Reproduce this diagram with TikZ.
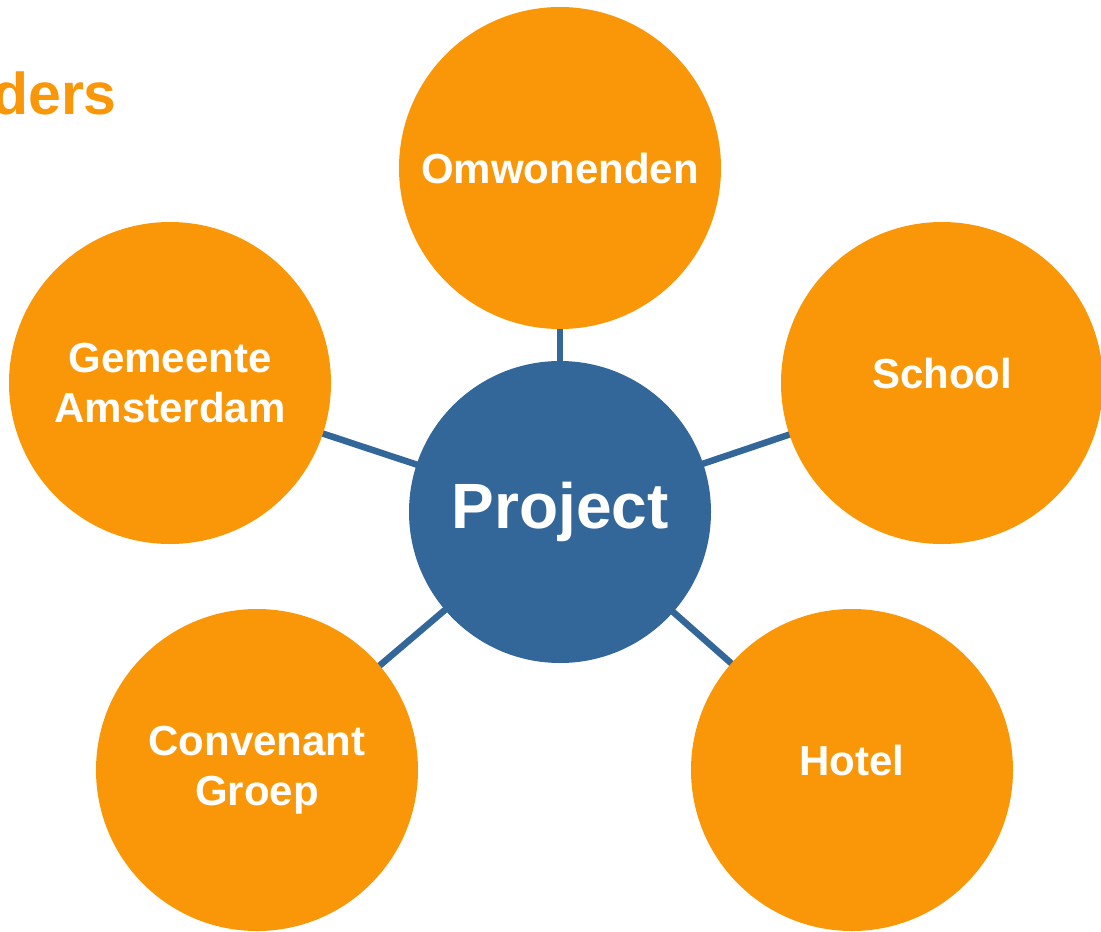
\documentclass[tikz,border=0pt]{standalone}
\usepackage{fontspec}
\setmainfont{Liberation Sans}
\usetikzlibrary{backgrounds}
\definecolor{stakeorange}{RGB}{249,151,9}
\definecolor{projblue}{RGB}{52,103,153}

\begin{document}
\begin{tikzpicture}[x=1pt,y=-1pt,
  stake/.style={circle, fill=stakeorange, draw=none, minimum size=322pt, inner sep=0pt, text=white, align=center, font=\bfseries\fontsize{42}{50}\selectfont},
  hub/.style={circle, fill=projblue, draw=none, minimum size=302pt, inner sep=0pt, text=white, font=\bfseries\fontsize{64}{70}\selectfont},
  lift/.style={text depth=20pt},
  link/.style={draw=projblue, line width=6.5pt}]
\clip (0,0) rectangle (1101,932);
\node[text=stakeorange, font=\bfseries\fontsize{59}{64}\selectfont, anchor=base east, inner sep=0pt] (title) at (117,114) {ders};
\node[hub] (proj) at (560,512) {Project};
\node[stake] (omw) at (560,168) {Omwonenden};
\node[stake] (gem) at (170,383) {Gemeente\\Amsterdam};
\node[stake, lift] (school) at (942,383) {School};
\node[stake] (conv) at (257,770) {Convenant\\Groep};
\node[stake, lift] (hotel) at (852,770) {Hotel};
\begin{pgfonlayer}{background}
\draw[link] (proj.center) -- (omw.center);
\draw[link] (proj.center) -- (gem.center);
\draw[link] (proj.center) -- (school.center);
\draw[link] (proj.center) -- (conv.center);
\draw[link] (proj.center) -- (hotel.center);
\end{pgfonlayer}
\end{tikzpicture}
\end{document}
